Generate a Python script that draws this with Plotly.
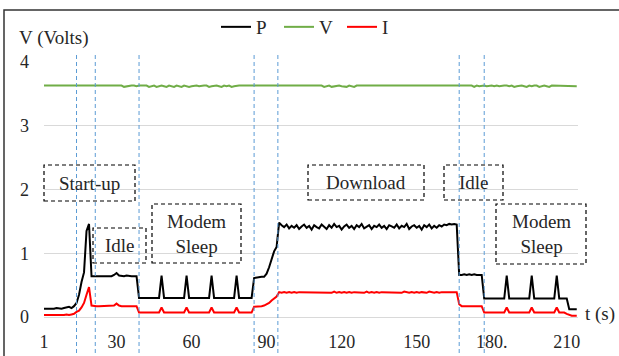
import plotly.graph_objects as go

# ---------------- data ----------------
t = list(range(1, 215))

P = [
    0.13, 0.13, 0.12, 0.13, 0.13, 0.14, 0.13, 0.13, 0.14, 0.15, 0.16, 0.14, 0.17, 0.22, 0.35, 0.55, 0.70, 1.35, 1.46, 0.64,
    0.64, 0.64, 0.65, 0.64, 0.64, 0.65, 0.64, 0.64, 0.66, 0.69, 0.65, 0.64, 0.64, 0.65, 0.64, 0.64, 0.64, 0.64, 0.30, 0.30,
    0.30, 0.30, 0.30, 0.30, 0.30, 0.30, 0.30, 0.65, 0.30, 0.30, 0.30, 0.30, 0.30, 0.30, 0.30, 0.30, 0.30, 0.65, 0.30, 0.30,
    0.30, 0.30, 0.30, 0.30, 0.30, 0.30, 0.30, 0.65, 0.30, 0.30, 0.30, 0.30, 0.30, 0.30, 0.30, 0.30, 0.30, 0.65, 0.30, 0.30,
    0.30, 0.30, 0.30, 0.30, 0.61, 0.62, 0.62, 0.63, 0.63, 0.68, 0.78, 0.89, 1.03, 1.10, 1.48, 1.44, 1.41, 1.45, 1.39, 1.43,
    1.40, 1.44, 1.38, 1.42, 1.45, 1.40, 1.43, 1.37, 1.44, 1.41, 1.39, 1.45, 1.42, 1.38, 1.44, 1.40, 1.46, 1.41, 1.43, 1.37,
    1.42, 1.45, 1.40, 1.43, 1.38, 1.44, 1.41, 1.46, 1.39, 1.42, 1.44, 1.38, 1.43, 1.41, 1.45, 1.40, 1.43, 1.38, 1.44, 1.42,
    1.40, 1.45, 1.39, 1.43, 1.41, 1.46, 1.38, 1.42, 1.44, 1.40, 1.43, 1.37, 1.44, 1.41, 1.45, 1.39, 1.43, 1.40, 1.44, 1.42,
    1.45, 1.44, 1.46, 1.45, 1.46, 1.45, 0.66, 0.66, 0.67, 0.66, 0.67, 0.66, 0.67, 0.66, 0.66, 0.66, 0.29, 0.29, 0.29, 0.29,
    0.29, 0.29, 0.29, 0.29, 0.29, 0.65, 0.29, 0.29, 0.29, 0.29, 0.29, 0.29, 0.29, 0.29, 0.29, 0.65, 0.29, 0.29, 0.29, 0.29,
    0.29, 0.29, 0.29, 0.29, 0.29, 0.65, 0.29, 0.29, 0.29, 0.29, 0.12, 0.12, 0.12, 0.12,
]

V = [
    3.63, 3.63, 3.63, 3.63, 3.63, 3.62, 3.63, 3.63, 3.63, 3.63, 3.62, 3.63, 3.62, 3.63, 3.63, 3.62, 3.62, 3.63, 3.62, 3.63,
    3.63, 3.62, 3.63, 3.63, 3.63, 3.63, 3.63, 3.63, 3.63, 3.62, 3.63, 3.63, 3.61, 3.62, 3.63, 3.63, 3.63, 3.62, 3.63, 3.63,
    3.62, 3.63, 3.61, 3.62, 3.63, 3.61, 3.62, 3.63, 3.62, 3.61, 3.63, 3.62, 3.61, 3.63, 3.62, 3.61, 3.63, 3.62, 3.61, 3.62,
    3.63, 3.63, 3.62, 3.63, 3.63, 3.63, 3.61, 3.62, 3.63, 3.63, 3.62, 3.61, 3.63, 3.62, 3.63, 3.61, 3.62, 3.63, 3.63, 3.63,
    3.63, 3.63, 3.62, 3.63, 3.63, 3.63, 3.63, 3.62, 3.63, 3.63, 3.63, 3.63, 3.62, 3.63, 3.63, 3.62, 3.63, 3.63, 3.62, 3.63,
    3.63, 3.63, 3.62, 3.63, 3.63, 3.62, 3.63, 3.63, 3.62, 3.63, 3.62, 3.63, 3.61, 3.62, 3.63, 3.61, 3.62, 3.63, 3.63, 3.62,
    3.62, 3.61, 3.63, 3.62, 3.61, 3.63, 3.63, 3.63, 3.63, 3.63, 3.62, 3.63, 3.63, 3.63, 3.62, 3.63, 3.63, 3.62, 3.63, 3.62,
    3.63, 3.63, 3.62, 3.63, 3.63, 3.62, 3.63, 3.62, 3.63, 3.63, 3.62, 3.63, 3.63, 3.62, 3.63, 3.63, 3.62, 3.63, 3.63, 3.63,
    3.63, 3.63, 3.63, 3.62, 3.63, 3.63, 3.63, 3.62, 3.63, 3.62, 3.63, 3.63, 3.61, 3.63, 3.62, 3.63, 3.63, 3.62, 3.63, 3.63,
    3.62, 3.63, 3.62, 3.63, 3.63, 3.63, 3.62, 3.63, 3.61, 3.62, 3.63, 3.63, 3.62, 3.61, 3.63, 3.62, 3.63, 3.63, 3.61, 3.62,
    3.63, 3.62, 3.61, 3.63, 3.63, 3.62, 3.62, 3.63, 3.63, 3.63, 3.62, 3.63, 3.63, 3.62,
]

I = [
    0.03, 0.03, 0.02, 0.03, 0.03, 0.03, 0.02, 0.03, 0.03, 0.04, 0.03, 0.04, 0.05, 0.08, 0.10, 0.15, 0.22, 0.35, 0.47, 0.18,
    0.17, 0.17, 0.17, 0.17, 0.17, 0.17, 0.17, 0.17, 0.18, 0.21, 0.18, 0.17, 0.17, 0.17, 0.17, 0.17, 0.17, 0.17, 0.07, 0.07,
    0.07, 0.07, 0.07, 0.07, 0.07, 0.07, 0.07, 0.15, 0.07, 0.07, 0.07, 0.07, 0.07, 0.07, 0.07, 0.07, 0.07, 0.15, 0.07, 0.07,
    0.07, 0.07, 0.07, 0.07, 0.07, 0.07, 0.07, 0.15, 0.07, 0.07, 0.07, 0.07, 0.07, 0.07, 0.07, 0.07, 0.07, 0.15, 0.07, 0.07,
    0.07, 0.07, 0.07, 0.07, 0.16, 0.16, 0.17, 0.17, 0.18, 0.20, 0.22, 0.26, 0.29, 0.32, 0.39, 0.38, 0.39, 0.38, 0.39, 0.38,
    0.39, 0.38, 0.39, 0.39, 0.38, 0.39, 0.38, 0.39, 0.38, 0.39, 0.39, 0.38, 0.39, 0.38, 0.39, 0.38, 0.40, 0.38, 0.39, 0.38,
    0.39, 0.38, 0.39, 0.38, 0.39, 0.39, 0.38, 0.39, 0.38, 0.40, 0.38, 0.39, 0.38, 0.39, 0.38, 0.39, 0.39, 0.38, 0.39, 0.38,
    0.39, 0.38, 0.39, 0.38, 0.40, 0.39, 0.38, 0.39, 0.38, 0.39, 0.38, 0.39, 0.39, 0.38, 0.40, 0.39, 0.38, 0.39, 0.38, 0.39,
    0.39, 0.39, 0.40, 0.39, 0.40, 0.39, 0.20, 0.17, 0.17, 0.17, 0.17, 0.17, 0.17, 0.17, 0.17, 0.17, 0.07, 0.07, 0.07, 0.07,
    0.07, 0.07, 0.07, 0.07, 0.07, 0.15, 0.07, 0.07, 0.07, 0.07, 0.07, 0.07, 0.07, 0.07, 0.07, 0.15, 0.07, 0.07, 0.07, 0.07,
    0.07, 0.07, 0.07, 0.07, 0.07, 0.15, 0.07, 0.07, 0.07, 0.05, 0.03, 0.02, 0.02, 0.02,
]

x_tick_vals = [1, 30, 60, 90, 120, 150, 180, 210]
x_tick_text = ["1", "30", "60", "90", "120", "150", "180.", "210"]
y_tick_vals = [0, 1, 2, 3, 4]

phase_bounds = [14, 21.5, 39, 85, 94.5, 167, 177]

phase_labels = ["Start-up", "Idle", "Modem<br>Sleep", "Download", "Idle", "Modem<br>Sleep"]

# ---------------- layout helpers ----------------
W, H = 619, 356
ML, MR, MT, MB = 44, 41, 62, 39
PW, PH = W - ML - MR, H - MT - MB


def px(xp):
    return (xp - ML) / PW


def py(yp):
    return (H - MB - yp) / PH


FONT = "'Liberation Serif', 'Times New Roman', Times, serif"
TXT = "#262626"

fig = go.Figure()
fig.add_trace(go.Scatter(x=t, y=P, name="P", mode="lines",
                         line=dict(color="#000000", width=2)))
fig.add_trace(go.Scatter(x=t, y=V, name="V", mode="lines",
                         line=dict(color="#70ad47", width=2)))
fig.add_trace(go.Scatter(x=t, y=I, name="I", mode="lines",
                         line=dict(color="#ff0000", width=2)))

shapes = []
# outer frame
shapes.append(dict(type="rect", xref="paper", yref="paper",
                   x0=px(4), x1=px(630), y0=py(365), y1=py(10),
                   line=dict(color="#333333", width=1.5), layer="below"))
# phase boundaries
for b in phase_bounds:
    shapes.append(dict(type="line", xref="x", yref="paper", x0=b, x1=b,
                       y0=py(360), y1=py(55),
                       line=dict(color="#5b9bd5", width=1, dash="4px,3px")))

# dashed boxes (pixel rectangles) with labels
boxes = [
    (44, 135, 165, 201),
    (93, 146, 228, 263),
    (152, 241, 204, 263),
    (308, 424, 165, 200),
    (444, 503, 165, 200),
    (496, 586, 204, 264),
]
annotations = []
for (x0, x1, y0, y1), lab in zip(boxes, phase_labels):
    shapes.append(dict(type="rect", xref="paper", yref="paper",
                       x0=px(x0), x1=px(x1), y0=py(y1), y1=py(y0),
                       line=dict(color="#000000", width=1.2, dash="4px,3px")))
    annotations.append(dict(xref="paper", yref="paper",
                            x=px((x0 + x1) / 2), y=py((y0 + y1) / 2),
                            xanchor="center", yanchor="middle",
                            text=lab, showarrow=False,
                            font=dict(family=FONT, size=19, color=TXT)))

annotations.append(dict(xref="paper", yref="paper", x=px(17), y=py(38),
                        xanchor="left", yanchor="middle", text="V (Volts)",
                        showarrow=False, font=dict(family=FONT, size=19, color=TXT)))
annotations.append(dict(xref="paper", yref="paper", x=px(583), y=py(314),
                        xanchor="left", yanchor="middle", text="t (s)",
                        showarrow=False, font=dict(family=FONT, size=19, color=TXT)))

fig.update_layout(
    width=W, height=H,
    margin=dict(l=ML, r=MR, t=MT, b=MB, pad=0, autoexpand=False),
    paper_bgcolor="white", plot_bgcolor="white",
    font=dict(family=FONT, size=18, color=TXT),
    showlegend=True,
    legend=dict(orientation="h", x=px(216), xanchor="left",
                y=py(27), yanchor="middle",
                font=dict(family=FONT, size=19, color=TXT),
                bgcolor="rgba(0,0,0,0)", itemwidth=30, tracegroupgap=0,
                entrywidth=18, entrywidthmode="pixels"),
    xaxis=dict(range=[1, 214.5], showgrid=False, zeroline=False, automargin=False,
               showline=False, tickmode="array", tickvals=x_tick_vals,
               ticktext=x_tick_text, ticks="", ticklabelstandoff=12,
               tickfont=dict(family=FONT, size=18, color=TXT)),
    yaxis=dict(range=[0, 4], showgrid=True, gridcolor="#d9d9d9", gridwidth=1,
               zeroline=True, zerolinecolor="#d9d9d9", zerolinewidth=1, automargin=False,
               showline=False, tickmode="array", tickvals=y_tick_vals,
               ticks="", ticklabelstandoff=14,
               tickfont=dict(family=FONT, size=18, color=TXT)),
    shapes=shapes,
    annotations=annotations,
)

fig.write_html("out.html", config={"displayModeBar": False},
               post_script="document.body.style.margin='0';document.body.style.padding='0';")
